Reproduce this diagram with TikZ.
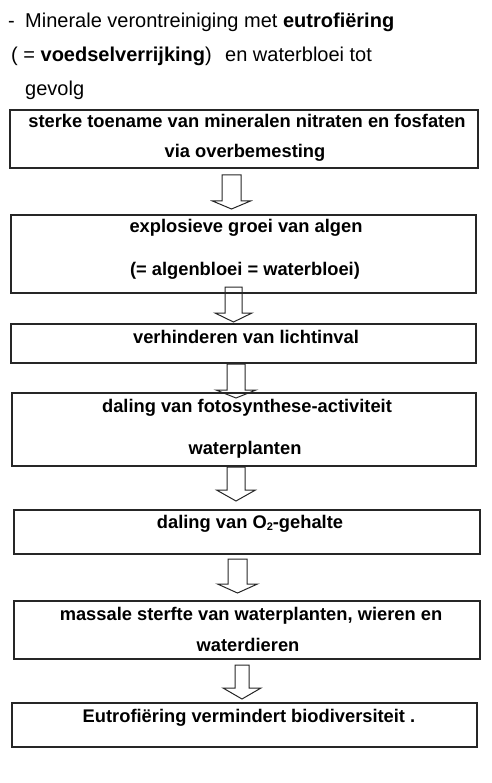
\documentclass[tikz,border=0pt]{standalone}
\usepackage{fontspec}
\setmainfont{Liberation Sans}
\begin{document}
\begin{tikzpicture}[x=1pt,y=-1pt,
  hdr/.style={inner sep=0pt,anchor=base west,font=\fontsize{20}{24}\selectfont},
  btxt/.style={inner sep=0pt,anchor=base,font=\fontsize{18.3}{22}\selectfont\bfseries},
  boxstyle/.style={draw=black!85,line width=1.2pt,rectangle,inner sep=0pt},
  arrowstyle/.style={draw=black!85,line width=1pt,line join=miter}]
\useasboundingbox (0,0) rectangle (491,783);
\newcommand\blockarrow[6]{%
  \draw[arrowstyle] ({#1-#5},#2) -- ({#1+#5},#2) -- ({#1+#5},#3) -- ({#1+#6},#3)
    -- (#1,#4) -- ({#1-#6},#3) -- ({#1-#5},#3) -- cycle;}
% header
\node[hdr] (h1a) at (8,28) {-};
\node[hdr] (h1b) at (25,28) {Minerale verontreiniging met \textbf{eutrofiëring}};
\node[hdr] (h2a) at (11,62) {( = \textbf{voedselverrijking})};
\node[hdr] (h2b) at (225,62) {en waterbloei tot};
\node[hdr] (h3) at (25,96) {gevolg};
% boxes
\draw[boxstyle] (10,110) rectangle (478,168) coordinate (b1);
\draw[boxstyle] (11,215) rectangle (476,293) coordinate (b2);
\draw[boxstyle] (11,324) rectangle (476,363) coordinate (b3);
\draw[boxstyle] (12,393) rectangle (476,466) coordinate (b4);
\draw[boxstyle] (14,510) rectangle (480,554) coordinate (b5);
\draw[boxstyle] (14,601) rectangle (480,659) coordinate (b6);
\draw[boxstyle] (12,703) rectangle (477,747) coordinate (b7);
% box texts
\node[btxt] (t1a) at (247,128) {sterke toename van mineralen nitraten en fosfaten};
\node[btxt] (t1b) at (245,158) {via overbemesting};
\node[btxt] (t2a) at (246,233) {explosieve groei van algen};
\node[btxt] (t2b) at (245,275) {(= algenbloei = waterbloei)};
\node[btxt] (t3) at (246,343) {verhinderen van lichtinval};
\node[btxt] (t4a) at (247,412) {daling van fotosynthese-activiteit};
\node[btxt] (t4b) at (245,454) {waterplanten};
\node[btxt] (t5) at (250,528) {daling van O\raisebox{-0.12em}{\fontsize{11}{11}\selectfont 2}-gehalte};
\node[btxt] (t6a) at (251,620) {massale sterfte van waterplanten, wieren en};
\node[btxt] (t6b) at (248,651) {waterdieren};
\node[btxt] (t7) at (249,722) {Eutrofiëring vermindert biodiversiteit .};
% block arrows
\blockarrow{231.5}{175}{201}{209}{9.5}{19}
\blockarrow{233.5}{287}{313}{322}{8.5}{18.5}
\blockarrow{236}{364}{390}{398}{9}{20}
\blockarrow{236}{467}{490}{501}{9}{19.5}
\blockarrow{237.5}{559}{584}{593}{9.5}{20}
\blockarrow{242}{665}{688}{699}{7}{19}
\end{tikzpicture}
\end{document}
